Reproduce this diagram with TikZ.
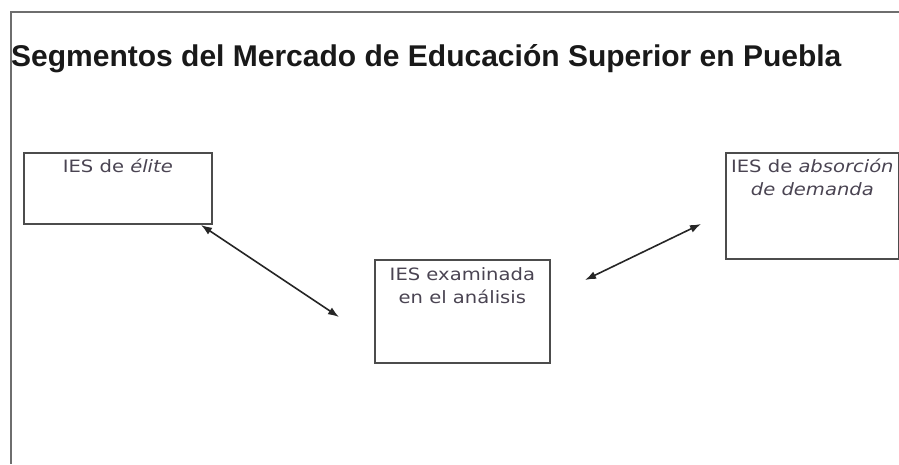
\documentclass[tikz,border=0pt]{standalone}
\usepackage{fontspec}
\setmainfont{Liberation Sans}
\newfontfamily\boxfont{DejaVu Sans}
\usetikzlibrary{arrows.meta}
\definecolor{framegray}{HTML}{6E6E6E}
\definecolor{boxtext}{HTML}{4A4452}
\newcommand{\wide}[1]{\scalebox{1.15}[1]{#1}}
\begin{document}
\begin{tikzpicture}[x=1pt,y=-1pt]
    \tikzstyle{frame}=[draw=framegray,line width=1.8pt]
    \tikzstyle{ies}=[draw=black!70,line width=1.7pt,anchor=north west,inner sep=0pt]
    \tikzstyle{iestext}=[text=boxtext,font=\boxfont\fontsize{17}{23}\selectfont,anchor=north,inner sep=0pt]
    \tikzstyle{vectors}=[{Latex[length=11pt,width=8pt]}-{Latex[length=11pt,width=8pt]},line width=1.6pt,black!85]
    \useasboundingbox (0,0) rectangle (899,464);
    \draw[frame] (899,12) -- (11,12) -- (11,464);
    \node[anchor=base west,inner sep=0pt,text=black!90,font=\bfseries\fontsize{30}{35}\selectfont] (title) at (11,66)
      {Segmentos del Mercado de Educación Superior en Puebla};

    \node[ies,minimum width=188pt,minimum height=71pt] (elite) at (23,152) {};
    \node[ies,minimum width=175pt,minimum height=103pt] (exam) at (374,259) {};
    \node[ies,minimum width=173pt,minimum height=106pt] (absor) at (725,152) {};
    \node[iestext] (elitetxt) at ([yshift=-7pt]elite.north) {\wide{IES de \textit{élite}}};
    \node[iestext] (examtxt) at ([yshift=-5pt]exam.north)
      {\wide{\begin{tabular}{@{}c@{}}IES examinada\\en el análisis\end{tabular}}};
    \node[iestext] (absortxt) at ([yshift=-4pt]absor.north)
      {\wide{\begin{tabular}{@{}c@{}}IES de \textit{absorción}\\\textit{de demanda}\end{tabular}}};

    \coordinate (e1) at (201,225);
    \coordinate (e2) at (339,317);
    \coordinate (a1) at (585,280);
    \coordinate (a2) at (701,224);
    \draw[vectors] (e1) -- (e2);
    \draw[vectors] (a1) -- (a2);
\end{tikzpicture}
\end{document}
